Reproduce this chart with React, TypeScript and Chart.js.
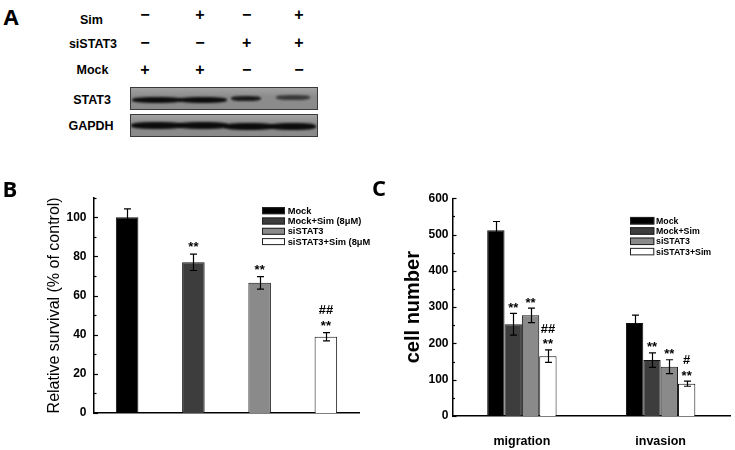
import React, { useEffect, useRef } from "react";
import { Chart, registerables } from "chart.js";

Chart.register(...registerables);

const FONT = "'Liberation Sans', Arial, Helvetica, sans-serif";
const LETTER_FONT = "'Open Sans', 'Liberation Sans', Arial, sans-serif";

// ---------- Panel A (western blot) ----------
const simSigns = ["−", "+", "−", "+"];
const siSTAT3Signs = ["−", "−", "+", "+"];
const mockSigns = ["+", "+", "−", "−"];
const stat3Intensity = [1, 1, 0.9, 0.65];
const gapdhIntensity = [1, 1, 1, 1];

// ---------- Panel B (survival) ----------
const survivalLabels = ["Mock", "Mock+Sim (8μM)", "siSTAT3", "siSTAT3+Sim (8μM)"];
const survivalValues = [100, 77, 66.5, 39];
const survivalErrors = [4.3, 4.2, 3.2, 2.1];
const survivalSig = [[], ["**"], ["**"], ["##", "**"]];
const survivalTicks = [0, 20, 40, 60, 80, 100];

// ---------- Panel C (migration / invasion) ----------
const assayCategories = ["migration", "invasion"];
const groupLabels = ["Mock", "Mock+Sim", "siSTAT3", "siSTAT3+Sim"];
const mockValues = [512, 256];
const mockErrors = [24, 22];
const mockSimValues = [253, 154];
const mockSimErrors = [30, 20];
const siValues = [277.5, 136];
const siErrors = [20, 19];
const siSimValues = [165, 89];
const siSimErrors = [17, 7];
const mockSig = [[], []];
const mockSimSig = [["**"], ["**"]];
const siSig = [["**"], ["**"]];
const siSimSig = [["##", "**"], ["#", "**"]];
const cellTicks = [0, 100, 200, 300, 400, 500, 600];

const groupColors = ["#000000", "#3d3d3d", "#8a8a8a", "#ffffff"];

// ---------- plugins ----------
const innerTicksPlugin = {
  id: "innerTicks",
  afterDraw(chart: any, _a: any, opts: any) {
    const y = chart.scales.y;
    const ctx = chart.ctx;
    const x0 = chart.chartArea.left;
    ctx.save();
    ctx.strokeStyle = "#000";
    ctx.lineWidth = 1.2;
    y.ticks.forEach((t: any) => {
      const py = Math.round(y.getPixelForValue(t.value)) + 0.5;
      const major = opts.major.includes(t.value);
      const len = major ? opts.majorLen : opts.minorLen;
      ctx.beginPath();
      ctx.moveTo(x0, py);
      ctx.lineTo(x0 + len, py);
      ctx.stroke();
    });
    ctx.restore();
  },
};

const errorBarsPlugin = {
  id: "errorBars",
  afterDatasetsDraw(chart: any, _a: any, opts: any) {
    const ctx = chart.ctx;
    const y = chart.scales.y;
    ctx.save();
    chart.data.datasets.forEach((ds: any, di: number) => {
      const meta = chart.getDatasetMeta(di);
      if (!ds.errors) return;
      meta.data.forEach((bar: any, i: number) => {
        const v = ds.data[i];
        const e = ds.errors[i];
        const x = Math.round(bar.x) + 0.5;
        const yt = y.getPixelForValue(v + e);
        const yb = y.getPixelForValue(v - e);
        ctx.strokeStyle = "#000";
        ctx.lineWidth = 1.2;
        ctx.beginPath();
        ctx.moveTo(x, yt);
        ctx.lineTo(x, yb);
        ctx.moveTo(x - opts.cap, yt);
        ctx.lineTo(x + opts.cap, yt);
        ctx.moveTo(x - opts.cap, yb);
        ctx.lineTo(x + opts.cap, yb);
        ctx.stroke();
        const sig = (ds.sig && ds.sig[i]) || [];
        ctx.fillStyle = "#000";
        ctx.font = opts.font;
        ctx.textAlign = "center";
        ctx.textBaseline = "alphabetic";
        let base = yt - opts.gap;
        for (let k = sig.length - 1; k >= 0; k--) {
          const extra = sig[k].startsWith("#") ? -3 : 0;
          ctx.fillText(sig[k], bar.x, base + extra);
          base -= opts.line;
        }
      });
    });
    ctx.restore();
  },
};

const boxLegendPlugin = {
  id: "boxLegend",
  afterDraw(chart: any, _a: any, opts: any) {
    const ctx = chart.ctx;
    ctx.save();
    const labels: string[] = opts.labels;
    const colors: string[] = opts.colors;
    labels.forEach((lab, i) => {
      const cy = opts.y + i * opts.rowH;
      ctx.fillStyle = colors[i];
      ctx.fillRect(opts.x, cy - opts.boxH / 2, opts.boxW, opts.boxH);
      ctx.strokeStyle = "#222";
      ctx.lineWidth = 1;
      ctx.strokeRect(opts.x + 0.5, cy - opts.boxH / 2 + 0.5, opts.boxW - 1, opts.boxH - 1);
      ctx.fillStyle = "#000";
      ctx.font = opts.font;
      ctx.textAlign = "left";
      ctx.textBaseline = "middle";
      ctx.fillText(lab, opts.textX, cy + 0.5);
    });
    ctx.restore();
  },
};

function Txt(props: { x: number; y: number; size: number; weight?: any; family?: string; children: any }) {
  return (
    <div
      style={{
        position: "absolute",
        left: props.x,
        top: props.y,
        transform: "translate(-50%, -50%)",
        fontSize: props.size,
        lineHeight: `${props.size}px`,
        fontWeight: props.weight ?? "bold",
        fontFamily: props.family ?? FONT,
        whiteSpace: "nowrap",
        color: "#000",
      }}
    >
      {props.children}
    </div>
  );
}

function Blot(props: { top: number; height: number; intensity: number[]; kind: "stat3" | "gapdh" }) {
  const left = 130;
  const width = 188;
  const stat3Bands = [
    { cx: 156, w: 50, cy: 98.8, h: 6 },
    { cx: 202, w: 48, cy: 98.8, h: 6 },
    { cx: 245, w: 30, cy: 97, h: 5 },
    { cx: 292, w: 34, cy: 96.6, h: 5 },
  ];
  const gapdhBands = [
    { cx: 156, w: 52, cy: 124.7, h: 7 },
    { cx: 202, w: 50, cy: 124.7, h: 7 },
    { cx: 248, w: 50, cy: 125.2, h: 7 },
    { cx: 292, w: 46, cy: 125.2, h: 7 },
  ];
  const bands = props.kind === "stat3" ? stat3Bands : gapdhBands;
  return (
    <div
      style={{
        position: "absolute",
        left,
        top: props.top,
        width,
        height: props.height,
        boxSizing: "border-box",
        border: "1.5px solid #3a3a3a",
        background: "linear-gradient(#a2a2a2, #8c8c8c 40%, #8a8a8a)",
        overflow: "hidden",
      }}
    >
      {bands.map((b, i) => (
        <div
          key={i}
          style={{
            position: "absolute",
            left: b.cx - b.w / 2 - left,
            top: b.cy - b.h / 2 - props.top,
            width: b.w,
            height: b.h,
            background: "#0c0c0c",
            opacity: props.intensity[i],
            borderRadius: "40%",
            filter: "blur(0.9px)",
          }}
        />
      ))}
    </div>
  );
}

export default function App() {
  const refB = useRef<HTMLCanvasElement | null>(null);
  const refC = useRef<HTMLCanvasElement | null>(null);

  useEffect(() => {
    Chart.defaults.font.family = FONT;
    Chart.defaults.color = "#000";

    const chartB = new Chart(refB.current as HTMLCanvasElement, {
      type: "bar",
      data: {
        labels: survivalLabels,
        datasets: [
          {
            data: survivalValues,
            backgroundColor: groupColors,
            borderColor: "#111",
            borderWidth: 1,
            barPercentage: 0.34,
            categoryPercentage: 1,
            errors: survivalErrors,
            sig: survivalSig,
          } as any,
        ],
      },
      options: {
        responsive: false,
        animation: false,
        events: [],
        layout: { padding: { left: 0, right: 11, top: 27.7, bottom: 37 } },
        plugins: {
          legend: { display: false },
          tooltip: { enabled: false },
          innerTicks: { major: survivalTicks, majorLen: 4, minorLen: 2.5 },
          errorBars: { cap: 3.5, gap: 3, line: 13, font: `bold 13px ${FONT}` },
          boxLegend: {
            labels: survivalLabels,
            colors: groupColors,
            x: 262,
            y: 40.7,
            boxW: 23,
            boxH: 7,
            rowH: 10.3,
            textX: 287.7,
            font: `bold 9.3px ${FONT}`,
          },
        } as any,
        scales: {
          x: {
            grid: { display: false, drawTicks: false },
            ticks: { display: false },
            border: { display: true, color: "#000", width: 1.5 },
            afterFit: (s: any) => {
              s.height = 0;
            },
          },
          y: {
            min: 0,
            max: 110,
            ticks: {
              stepSize: 10,
              padding: 7.5,
              color: "#000",
              font: { size: 12, weight: "bold" },
              callback: (v: any) => (survivalTicks.includes(Number(v)) ? String(v) : ""),
            },
            grid: { display: false, drawTicks: false },
            border: { display: true, color: "#000", width: 1.5 },
            title: {
              display: true,
              text: "Relative survival (% of control)",
              color: "#000",
              font: { size: 16, weight: "normal" },
              padding: { top: 45, bottom: 0 },
            },
            afterFit: (s: any) => {
              s.width = 94;
            },
          },
        },
      },
      plugins: [innerTicksPlugin, errorBarsPlugin, boxLegendPlugin],
    } as any);

    const seriesValues = [mockValues, mockSimValues, siValues, siSimValues];
    const seriesErrors = [mockErrors, mockSimErrors, siErrors, siSimErrors];
    const seriesSig = [mockSig, mockSimSig, siSig, siSimSig];

    const chartC = new Chart(refC.current as HTMLCanvasElement, {
      type: "bar",
      data: {
        labels: assayCategories,
        datasets: groupLabels.map((lab, i) => ({
          label: lab,
          data: seriesValues[i],
          backgroundColor: groupColors[i],
          borderColor: "#111",
          borderWidth: 1,
          barPercentage: 1,
          categoryPercentage: 0.5,
          errors: seriesErrors[i],
          sig: seriesSig[i],
        })) as any,
      },
      options: {
        responsive: false,
        animation: false,
        events: [],
        layout: { padding: { left: 0, right: 5, top: 28.3, bottom: 0 } },
        plugins: {
          legend: { display: false },
          tooltip: { enabled: false },
          innerTicks: { major: cellTicks, majorLen: 4, minorLen: 2.5 },
          errorBars: { cap: 3.5, gap: 1.5, line: 12.5, font: `bold 13px ${FONT}` },
          boxLegend: {
            labels: groupLabels,
            colors: groupColors,
            x: 260,
            y: 50.7,
            boxW: 24.3,
            boxH: 7.5,
            rowH: 10.3,
            textX: 286,
            font: `bold 8.8px ${FONT}`,
          },
        } as any,
        scales: {
          x: {
            grid: { display: false, drawTicks: false },
            ticks: { color: "#000", padding: 18, font: { size: 12.5, weight: "bold" } },
            border: { display: true, color: "#000", width: 1.5 },
            afterFit: (s: any) => {
              s.height = 34;
            },
          },
          y: {
            min: 0,
            max: 600,
            ticks: {
              stepSize: 50,
              padding: 4,
              color: "#000",
              font: { size: 12, weight: "bold" },
              callback: (v: any) => (cellTicks.includes(Number(v)) ? String(v) : ""),
            },
            grid: { display: false, drawTicks: false },
            border: { display: true, color: "#000", width: 1.5 },
            title: {
              display: true,
              text: "cell number",
              color: "#000",
              font: { size: 20, weight: "bold" },
              padding: { top: 31, bottom: 0 },
            },
            afterFit: (s: any) => {
              s.width = 82.5;
            },
          },
        },
      },
      plugins: [innerTicksPlugin, errorBarsPlugin, boxLegendPlugin],
    } as any);

    return () => {
      chartB.destroy();
      chartC.destroy();
    };
  }, []);

  const cols = [145, 200, 246.7, 299];

  return (
    <div
      style={{
        position: "absolute",
        left: 0,
        top: 0,
        width: 735,
        height: 450,
        background: "#fff",
        overflow: "hidden",
      }}
    >
      {/* Panel A */}
      <Txt x={11} y={15.5} size={22} family={LETTER_FONT}>A</Txt>
      <Txt x={91.5} y={20} size={12.5}>Sim</Txt>
      <Txt x={93} y={44.3} size={12.5}>siSTAT3</Txt>
      <Txt x={92.5} y={70} size={12.5}>Mock</Txt>
      {simSigns.map((s, i) => (
        <Txt key={"s" + i} x={cols[i]} y={15} size={16}>{s}</Txt>
      ))}
      {siSTAT3Signs.map((s, i) => (
        <Txt key={"t" + i} x={cols[i]} y={43.3} size={16}>{s}</Txt>
      ))}
      {mockSigns.map((s, i) => (
        <Txt key={"m" + i} x={cols[i]} y={70} size={16}>{s}</Txt>
      ))}
      <Txt x={92} y={100} size={12.5}>STAT3</Txt>
      <Txt x={91} y={125.7} size={12.5}>GAPDH</Txt>
      <Blot top={87} height={22.5} intensity={stat3Intensity} kind="stat3" />
      <Blot top={113.7} height={23.3} intensity={gapdhIntensity} kind="gapdh" />

      {/* Panel B */}
      <div style={{ position: "absolute", left: 0, top: 170, width: 370, height: 280 }}>
        <canvas ref={refB} width={370} height={280} style={{ display: "block" }} />
      </div>
      <Txt x={10} y={188} size={22} family={LETTER_FONT}>B</Txt>

      {/* Panel C */}
      <div style={{ position: "absolute", left: 370, top: 170, width: 365, height: 280 }}>
        <canvas ref={refC} width={365} height={280} style={{ display: "block" }} />
      </div>
      <Txt x={379} y={187} size={22} family={LETTER_FONT}>C</Txt>
    </div>
  );
}
